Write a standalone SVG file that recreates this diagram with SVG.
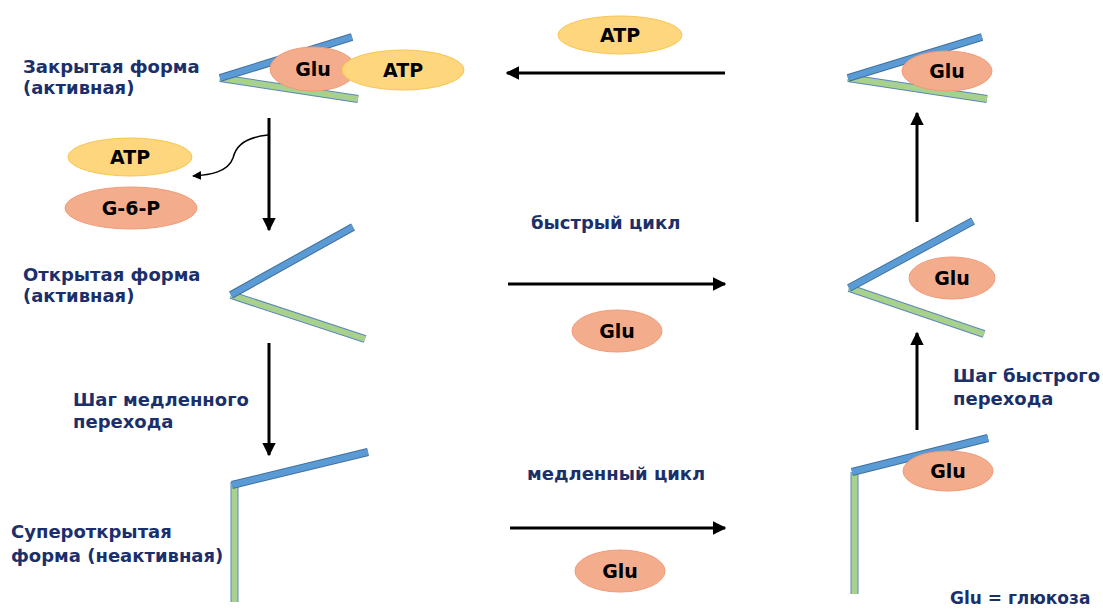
<svg xmlns="http://www.w3.org/2000/svg" width="1103" height="610" viewBox="0 0 1103 610">
<defs>
<style>
.lbl{font-family:"DejaVu Sans",Verdana,sans-serif;font-weight:bold;font-size:18px;fill:#1b2f6b}
.mol{font-family:"DejaVu Sans",Verdana,sans-serif;font-weight:bold;font-size:19px;fill:#000;text-anchor:middle}
.glu{fill:#f4ad8c;stroke:#f19a78;stroke-width:1}
.atp{fill:#fdd67e;stroke:#f8c64f;stroke-width:1}
.bb{stroke:#41719c;stroke-width:8;stroke-linecap:butt}
.bi{stroke:#5b9bd5;stroke-width:6;stroke-linecap:butt}
.gb{stroke:#5b87b8;stroke-width:8;stroke-linecap:butt}
.gi{stroke:#a9d18e;stroke-width:6;stroke-linecap:butt}
.arr{stroke:#000;stroke-width:3;fill:none}
</style>
<marker id="ah" viewBox="0 0 10 10" refX="9" refY="5" markerWidth="4.5" markerHeight="4.5" orient="auto" markerUnits="strokeWidth">
<path d="M0,0 L10,5 L0,10 z" fill="#000"/>
</marker>
<marker id="ahs" viewBox="0 0 10 10" refX="9" refY="5" markerWidth="6" markerHeight="6" orient="auto" markerUnits="strokeWidth">
<path d="M0,0 L10,5 L0,10 z" fill="#000"/>
</marker>
</defs>
<rect width="1103" height="610" fill="#fff"/>

<g id="closed-left">
<line class="gb" x1="220" y1="78" x2="358" y2="99"/><line class="gi" x1="220" y1="78" x2="358" y2="99"/>
<line class="bb" x1="220" y1="78" x2="352" y2="37"/><line class="bi" x1="220" y1="78" x2="352" y2="37"/>
<ellipse class="glu" cx="313" cy="69" rx="43" ry="22"/>
<text class="mol" x="313" y="76">Glu</text>
<ellipse class="atp" cx="403" cy="70" rx="61" ry="20"/>
<text class="mol" x="403" y="77">ATP</text>
<text class="lbl" x="23" y="73">Закрытая форма</text>
<text class="lbl" x="23" y="94">(активная)</text>
</g>

<g id="closed-right">
<line class="gb" x1="848" y1="78" x2="987" y2="99"/><line class="gi" x1="848" y1="78" x2="987" y2="99"/>
<line class="bb" x1="848" y1="78" x2="982" y2="37"/><line class="bi" x1="848" y1="78" x2="982" y2="37"/>
<ellipse class="glu" cx="947" cy="71" rx="45" ry="20"/>
<text class="mol" x="947" y="78">Glu</text>
</g>

<g id="atp-top">
<ellipse class="atp" cx="620" cy="35" rx="62" ry="19"/>
<text class="mol" x="620" y="42">ATP</text>
</g>

<g id="released">
<ellipse class="atp" cx="130" cy="157" rx="62" ry="19"/>
<text class="mol" x="130" y="164">ATP</text>
<ellipse class="glu" cx="131" cy="208" rx="66" ry="21"/>
<text class="mol" x="131" y="215">G-6-P</text>
</g>

<g id="open-left">
<line class="gb" x1="231" y1="295" x2="365" y2="339"/><line class="gi" x1="231" y1="295" x2="365" y2="339"/>
<line class="bb" x1="231" y1="295" x2="353" y2="227"/><line class="bi" x1="231" y1="295" x2="353" y2="227"/>
<text class="lbl" x="23" y="281">Открытая форма</text>
<text class="lbl" x="23" y="302">(активная)</text>
</g>

<g id="open-right">
<line class="gb" x1="849" y1="288" x2="984" y2="334"/><line class="gi" x1="849" y1="288" x2="984" y2="334"/>
<line class="bb" x1="849" y1="288" x2="973" y2="221"/><line class="bi" x1="849" y1="288" x2="973" y2="221"/>
<ellipse class="glu" cx="952" cy="278" rx="43" ry="21"/>
<text class="mol" x="952" y="285">Glu</text>
</g>

<g id="superopen-left">
<line class="gb" x1="234.5" y1="482" x2="234.5" y2="602"/><line class="gi" x1="234.5" y1="482" x2="234.5" y2="602"/>
<line class="bb" x1="232" y1="485" x2="368" y2="452"/><line class="bi" x1="232" y1="485" x2="368" y2="452"/>
<text class="lbl" x="11" y="538">Супероткрытая</text>
<text class="lbl" x="11" y="562">форма (неактивная)</text>
</g>

<g id="superopen-right">
<line class="gb" x1="854.5" y1="472" x2="854.5" y2="594"/><line class="gi" x1="854.5" y1="472" x2="854.5" y2="594"/>
<line class="bb" x1="852" y1="472" x2="988" y2="438"/><line class="bi" x1="852" y1="472" x2="988" y2="438"/>
<ellipse class="glu" cx="948" cy="471" rx="45" ry="20"/>
<text class="mol" x="948" y="478">Glu</text>
</g>

<g id="mid-glu">
<ellipse class="glu" cx="617" cy="331" rx="45" ry="21"/>
<text class="mol" x="617" y="338">Glu</text>
<ellipse class="glu" cx="620" cy="571" rx="45" ry="21"/>
<text class="mol" x="620" y="578">Glu</text>
</g>

<g id="labels">
<text class="lbl" x="531" y="229">быстрый цикл</text>
<text class="lbl" x="527" y="480">медленный цикл</text>
<text class="lbl" x="73" y="406">Шаг медленного</text>
<text class="lbl" x="73" y="428">перехода</text>
<text class="lbl" x="953" y="382">Шаг быстрого</text>
<text class="lbl" x="953" y="405">перехода</text>
<text class="lbl" x="950" y="604" style="font-size:17px">Glu = глюкоза</text>
</g>

<g id="connectors">
<line class="arr" x1="725" y1="73" x2="507" y2="73" marker-end="url(#ah)"/>
<line class="arr" x1="269" y1="118" x2="269" y2="230" marker-end="url(#ah)"/>
<path d="M268,135 C240,138 235,150 233,158 C228,172 210,175 193,176" stroke="#000" stroke-width="1.5" fill="none" marker-end="url(#ahs)"/>
<line class="arr" x1="269" y1="343" x2="269" y2="455" marker-end="url(#ah)"/>
<line class="arr" x1="508" y1="284" x2="725" y2="284" marker-end="url(#ah)"/>
<line class="arr" x1="510" y1="528" x2="725" y2="528" marker-end="url(#ah)"/>
<line class="arr" x1="917" y1="430" x2="917" y2="333" marker-end="url(#ah)"/>
<line class="arr" x1="917" y1="222" x2="917" y2="113" marker-end="url(#ah)"/>
</g>
</svg>
